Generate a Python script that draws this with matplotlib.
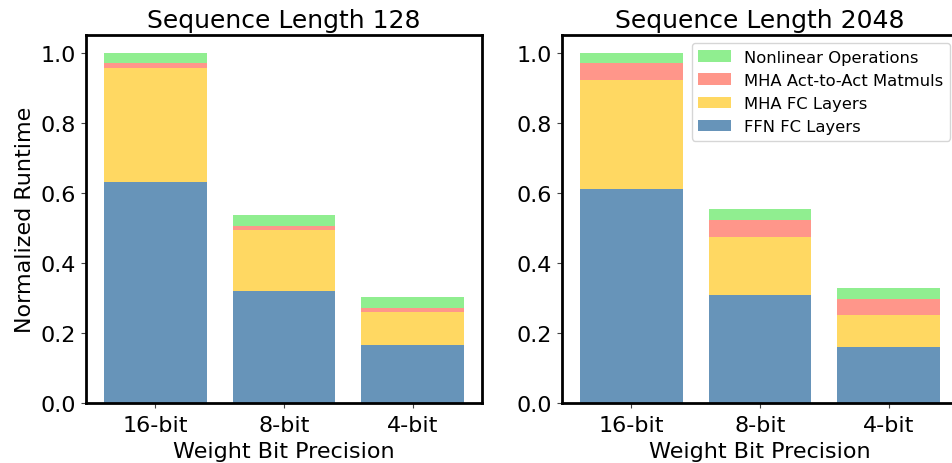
import matplotlib
matplotlib.use("Agg")
import matplotlib.pyplot as plt
import numpy as np

# Datos (runtime normalizado)
precisiones = ["16-bit", "8-bit", "4-bit"]
titulos = ["Sequence Length 128", "Sequence Length 2048"]

ffn_128 = [0.630, 0.319, 0.165]
mha_fc_128 = [0.327, 0.174, 0.094]
act_128 = [0.012, 0.011, 0.012]
nonlin_128 = [0.031, 0.032, 0.031]

ffn_2048 = [0.610, 0.308, 0.160]
mha_fc_2048 = [0.313, 0.165, 0.091]
act_2048 = [0.046, 0.048, 0.045]
nonlin_2048 = [0.031, 0.032, 0.032]

nombres = ["FFN FC Layers", "MHA FC Layers", "MHA Act-to-Act Matmuls", "Nonlinear Operations"]
colores = ["#6794B9", "#FFD862", "#FF968A", "#90EE90"]

datos = [
    [ffn_128, mha_fc_128, act_128, nonlin_128],
    [ffn_2048, mha_fc_2048, act_2048, nonlin_2048],
]

fig = plt.figure(figsize=(9.52, 4.64), dpi=100)
W, H = 952, 464
ax1 = fig.add_axes([86 / W, 60 / H, 396 / W, 368 / H])
ax2 = fig.add_axes([562 / W, 60 / H, 396 / W, 368 / H])

for ax, titulo, series in zip([ax1, ax2], titulos, datos):
    x = np.arange(len(precisiones))
    base = np.zeros(len(precisiones))
    for valores, nombre, color in zip(series, nombres, colores):
        ax.bar(x, valores, 0.8, bottom=base, color=color, label=nombre)
        base = base + np.array(valores)
    ax.set_xticks(x)
    ax.set_xticklabels(precisiones)
    ax.set_ylim(0, 1.05)
    ax.set_yticks([0.0, 0.2, 0.4, 0.6, 0.8, 1.0])
    ax.tick_params(labelsize=16, color="#444444")
    ax.tick_params(axis="x", pad=5.5)
    ax.set_title(titulo, fontsize=18)
    ax.set_xlabel("Weight Bit Precision", fontsize=16)
    for s in ax.spines.values():
        s.set_linewidth(2)

ax1.set_ylabel("Normalized Runtime", fontsize=16)

# Leyenda con el orden invertido (la capa superior primero)
handles, labels = ax2.get_legend_handles_labels()
ax2.legend(handles[::-1], labels[::-1], loc="upper right", fontsize=11.75)

fig.savefig("out.png", dpi=100)
